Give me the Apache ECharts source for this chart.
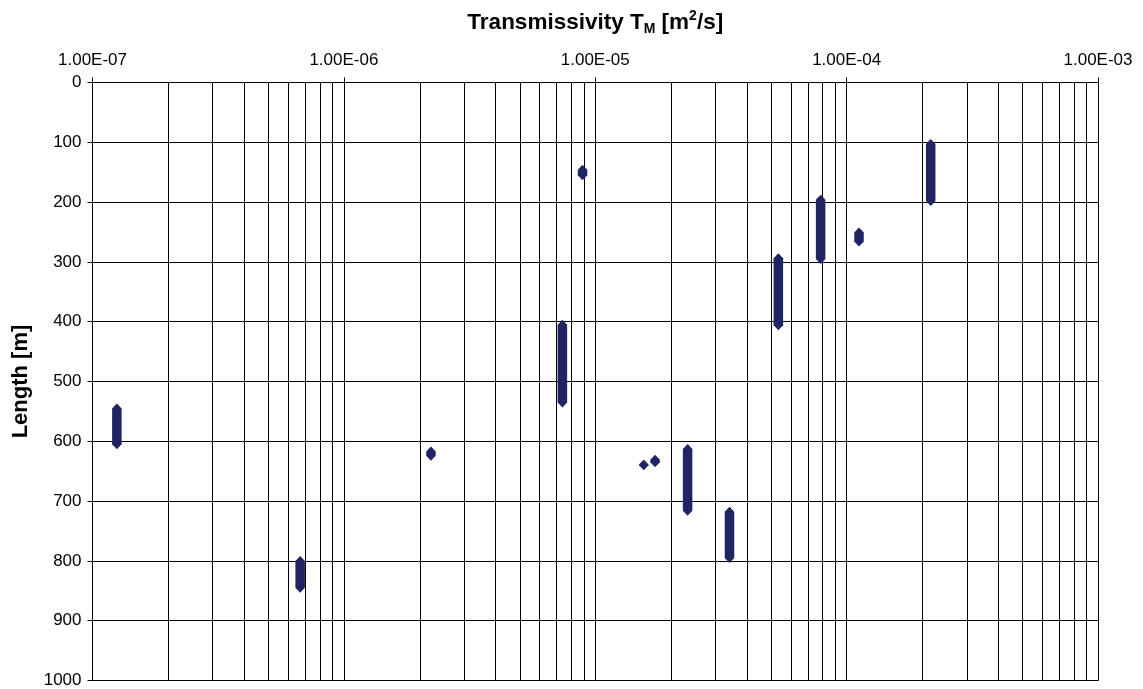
<!DOCTYPE html>
<html>
<head>
<meta charset="utf-8">
<script src="https://cdn.jsdelivr.net/npm/echarts@6/dist/echarts.min.js"></script>
<style>
  html, body { margin: 0; padding: 0; background: #fff; }
  #chart { width: 1143px; height: 689px; }
</style>
</head>
<body>
<div id="chart"></div>
<script>
// ---- data ----
const transmissivity = [1.25e-7, 6.7e-7, 2.22e-6, 8.9e-6, 7.4e-6, 1.56e-5, 1.73e-5, 2.33e-5, 3.42e-5, 5.35e-5, 7.88e-5, 1.12e-4, 2.16e-4];
const depthFrom      = [545, 800, 617, 146, 405, 639, 631, 613, 718, 294, 196, 251, 103];
const depthTo        = [605, 845, 624, 155, 535, 640, 635, 716, 795, 406, 295, 266, 198];
const xTickLabels = ['1.00E-07', '1.00E-06', '1.00E-05', '1.00E-04', '1.00E-03'];
const yTickLabels = ['0', '100', '200', '300', '400', '500', '600', '700', '800', '900', '1000'];
const xMinExp = -7;
const xMaxExp = -3;
const yMin = 0;
const yMax = 1000;

// ---- build ----
const FONT = '"Liberation Sans", Arial, sans-serif';
const barColor = '#212463';
const seriesData = transmissivity.map((t, i) => [t, depthFrom[i], depthTo[i]]);

const minorValues = [];
for (let e = xMinExp; e < xMaxExp; e++) {
  for (let k = 2; k <= 9; k++) minorValues.push([k * Math.pow(10, e)]);
}

const chart = echarts.init(document.getElementById('chart'), null, { renderer: 'canvas' });
chart.setOption({
  backgroundColor: '#ffffff',
  animation: false,
  grid: { left: 92.5, right: 45, top: 82.5, bottom: 8.5, containLabel: false, outerBoundsMode: 'none' },
  xAxis: {
    type: 'log',
    logBase: 10,
    position: 'top',
    min: Math.pow(10, xMinExp),
    max: Math.pow(10, xMaxExp),
    name: '{b|Transmissivity T}{sub|M}{b| [m}{sup|2}{b|/s]}',
    nameLocation: 'middle',
    nameGap: 45,
    nameTextStyle: {
      rich: {
        b: { fontFamily: FONT, fontWeight: 'bold', fontSize: 22.5, color: '#000', lineHeight: 30, verticalAlign: 'middle' },
        sub: { fontFamily: FONT, fontWeight: 'bold', fontSize: 14, color: '#000', lineHeight: 30, verticalAlign: 'middle', padding: [14, 0, 0, 0] },
        sup: { fontFamily: FONT, fontWeight: 'bold', fontSize: 14, color: '#000', lineHeight: 30, verticalAlign: 'middle', padding: [0, 0, 12, 0] }
      }
    },
    axisLine: { show: true, lineStyle: { color: '#000', width: 1 } },
    axisTick: { show: true, inside: false, length: 5, lineStyle: { color: '#000' } },
    axisLabel: {
      show: true, margin: 14, fontFamily: FONT, fontSize: 17, color: '#000',
      formatter: (v) => {
        const idx = Math.round(Math.log10(v)) - xMinExp;
        return xTickLabels[idx] !== undefined ? xTickLabels[idx] : '';
      }
    },
    splitLine: { show: true, lineStyle: { color: '#000', width: 1 } },
    minorTick: { show: false },
    minorSplitLine: { show: false }
  },
  yAxis: {
    type: 'value',
    inverse: true,
    min: yMin,
    max: yMax,
    interval: 100,
    name: 'Length [m]',
    nameLocation: 'middle',
    nameGap: 61,
    nameRotate: 90,
    nameTextStyle: { fontFamily: FONT, fontWeight: 'bold', fontSize: 22, color: '#000' },
    axisLine: { show: true, lineStyle: { color: '#000', width: 1 } },
    axisTick: { show: true, inside: false, length: 5, lineStyle: { color: '#000' } },
    axisLabel: {
      show: true, margin: 11, fontFamily: FONT, fontSize: 17, color: '#000',
      formatter: (v) => yTickLabels[Math.round(v / 100)]
    },
    splitLine: { show: true, lineStyle: { color: '#000', width: 1 } }
  },
  series: [
    {
      type: 'custom',
      silent: true,
      z: 1,
      data: minorValues,
      encode: { x: 0 },
      renderItem: function (params, api) {
        const v = api.value(0);
        const a = api.coord([v, yMin]);
        const b = api.coord([v, yMax]);
        const x = Math.round(a[0]) + 0.5;
        return {
          type: 'line',
          shape: { x1: x, y1: a[1], x2: x, y2: b[1] },
          style: { stroke: '#000', lineWidth: 1 }
        };
      }
    },
    {
      type: 'custom',
      z: 5,
      data: seriesData,
      encode: { x: 0, y: [1, 2] },
      renderItem: function (params, api) {
        const t = api.value(0);
        const p1 = api.coord([t, api.value(1)]);
        const p2 = api.coord([t, api.value(2)]);
        const x = p1[0];
        const y1 = Math.min(p1[1], p2[1]);
        const y2 = Math.max(p1[1], p2[1]);
        const hw = 4.75, tip = 5;
        return {
          type: 'polygon',
          shape: { points: [[x, y1 - tip], [x + hw, y1], [x + hw, y2], [x, y2 + tip], [x - hw, y2], [x - hw, y1]] },
          style: { fill: barColor, stroke: null }
        };
      }
    }
  ]
});
</script>
</body>
</html>
